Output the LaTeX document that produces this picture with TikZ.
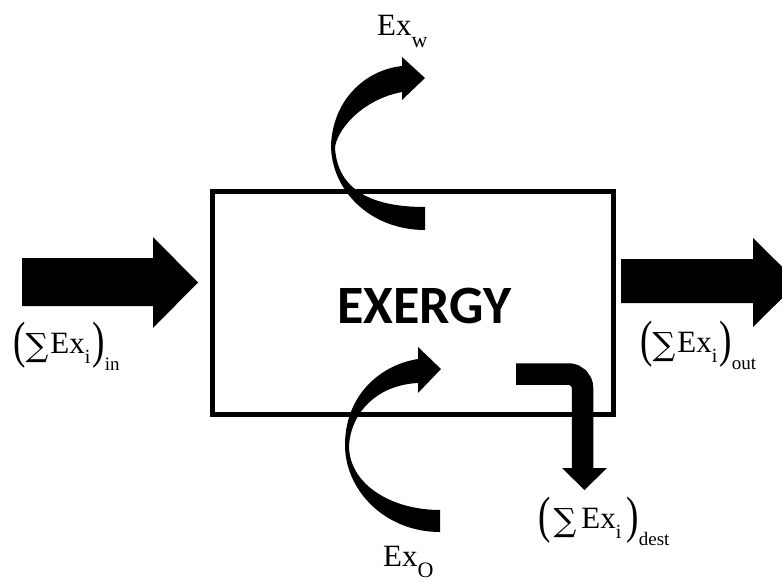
\documentclass[tikz,border=0pt]{standalone}
\usepackage{fontspec}
\usepackage{graphicx}
\setmainfont{Liberation Serif}
\newfontfamily\calib{Carlito}
\newfontfamily\dvs{DejaVu Serif}
\newcommand{\bigpar}[1]{\raisebox{-0.15em}{\scalebox{1.2}[1.65]{#1}}}
\newcommand{\sumsign}{\raisebox{-3pt}{\dvs\fontsize{32}{32}\selectfont ∑}}
\newcommand{\exsum}[2][0pt]{\bigpar{(}\hspace{#1}\sumsign\hspace{2pt}\hspace{#1}Ex\raisebox{-10pt}{\fontsize{20}{20}\selectfont i}\hspace{2pt}\hspace{#1}\bigpar{)}\raisebox{-17pt}{\fontsize{19}{19}\selectfont #2}}
\tikzset{
  ink/.style={fill=black, draw=none},
  lbl/.style={inner sep=0pt, anchor=base west, font=\fontsize{31}{36}\selectfont},
  boxline/.style={draw=black, line width=5pt}
}
\begin{document}
\begin{tikzpicture}[x=1pt,y=-1pt]
\useasboundingbox (0,0) rectangle (782,581);
\begin{scope}
\clip (0,0) rectangle (782,581);
% system box
\draw[boxline] (212.5,191.5) rectangle (613,414);
\node[inner sep=0pt, anchor=base, font=\calib\bfseries\fontsize{54}{60}\selectfont] (ex) at (424.5,323) {EXERGY};
% input arrow
\fill[ink] (22,258) -- (153,258) -- (153,237) -- (198,282.5) -- (153,328) -- (153,306) -- (22,306) -- cycle;
% output arrow
\fill[ink] (621,259) -- (753,259) -- (753,238) -- (798,282.5) -- (753,327) -- (753,303) -- (621,303) -- cycle;
% work arrow (top)
\fill[ink] (402,66) .. controls (365,70) and (333,100) .. (331,145)
  .. controls (331,190) and (370,230) .. (425,230) -- (425,207)
  .. controls (380,207) and (338,195) .. (335,148)
  .. controls (336,132) and (360,100) .. (402,92) -- cycle;
\fill[ink] (402,57) -- (425,78) -- (402,100) -- cycle;
% heat arrow (bottom)
\fill[ink] (418,359) .. controls (380,365) and (346,395) .. (345,443)
  .. controls (344,490) and (385,532) .. (440,532) -- (440,510)
  .. controls (392,510) and (350,485) .. (349,447)
  .. controls (350,415) and (375,385) .. (418,383) -- cycle;
\fill[ink] (418,347) -- (441,369) -- (418,393) -- cycle;
% destruction arrow
\draw[line width=21.5pt, rounded corners=14pt] (516,374) -| (582.5,468.5);
\fill[ink] (562,468) -- (607,468) -- (584.5,490) -- cycle;
% labels
\node[lbl] (lin) at (13,353) {\exsum{in}};
\node[lbl] (lout) at (640,352) {\exsum{out}};
\node[lbl] (ldest) at (538,528) {\exsum[3pt]{dest}};
\node[lbl] (lw) at (377,35) {Ex\raisebox{-12pt}{\fontsize{22}{22}\selectfont w}};
\node[lbl] (lo) at (383,566) {Ex\raisebox{-11pt}{\fontsize{22}{22}\selectfont O}};
\end{scope}
\end{tikzpicture}
\end{document}
